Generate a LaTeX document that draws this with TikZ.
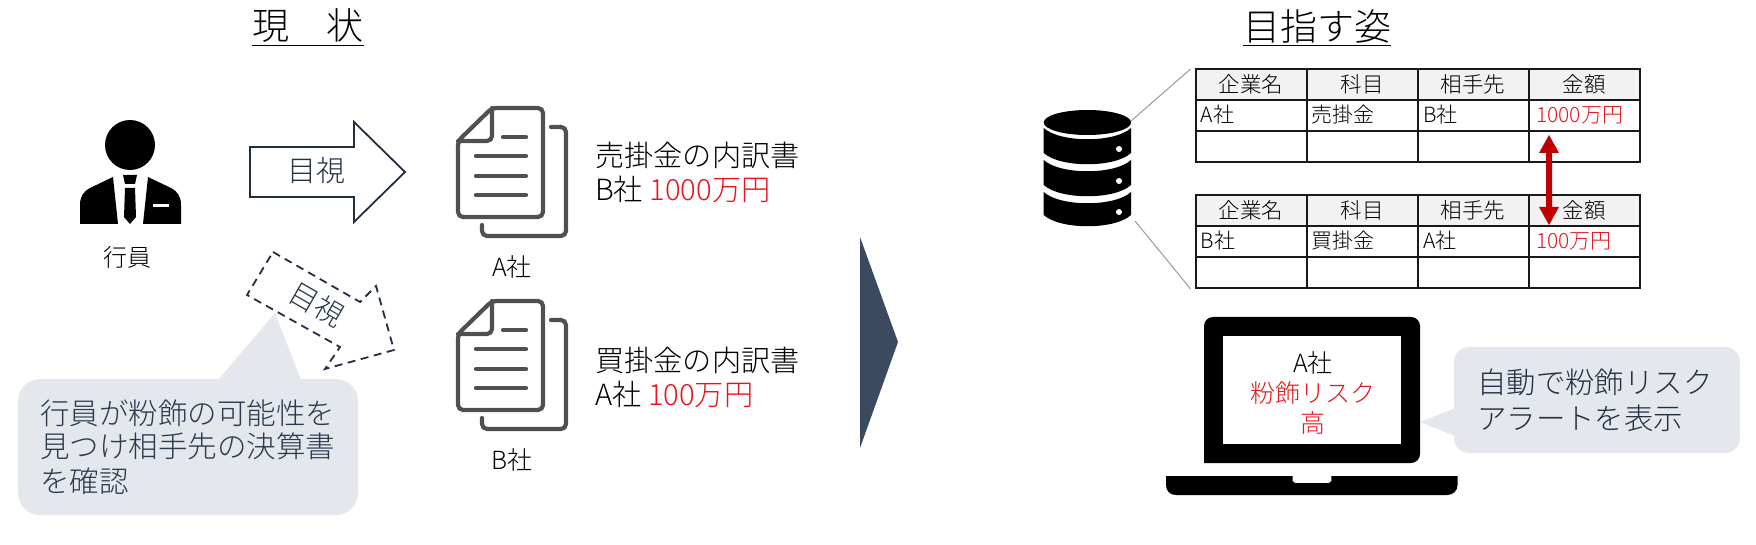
\documentclass[tikz,border=0pt]{standalone}
\usepackage{fontspec}
\setmainfont{Noto Sans CJK JP}[UprightFont=* Light]
\definecolor{navy}{HTML}{222F40}
\definecolor{ink}{HTML}{2B3A4C}
\definecolor{bubble}{HTML}{E4E7EC}
\definecolor{docgray}{HTML}{505050}
\definecolor{tri}{HTML}{3B4A5E}
\definecolor{alert}{HTML}{E8141C}
\definecolor{hdr}{HTML}{F2F2F2}
\definecolor{darkred}{HTML}{C00000}
\tikzset{
  txt/.style={inner sep=0pt,font=\fontsize{#1}{#1}\selectfont},
  lft/.style={txt=#1,anchor=west},
  docline/.style={draw=docgray,line width=4.2pt,line cap=round,line join=round,rounded corners=5pt},
  grid/.style={draw=black!90,line width=2pt},
  guide/.style={draw=black!40,line width=1pt}
}
\newcommand{\docicon}[1]{%
  \begin{scope}[yshift=-#1pt]
    \draw[docline] (492,108) -- (458,141) -- (458,217) -- (543,217) -- (543,108) -- cycle;
    \draw[docline] (492,108) -- (492,141) -- (458,141);
    \draw[docline] (551,127) -- (566,127) -- (566,236) -- (482,236) -- (482,225);
    \draw[docline,rounded corners=0pt] (503,137) -- (526,137);
    \draw[docline,rounded corners=0pt] (476,156) -- (526,156);
    \draw[docline,rounded corners=0pt] (476,176) -- (526,176);
    \draw[docline,rounded corners=0pt] (476,195) -- (526,195);
  \end{scope}}
\newcommand{\tablegrid}[1]{%
  \begin{scope}[yshift=-#1pt]
    \fill[hdr] (1195.5,69) rectangle (1640,100);
    \foreach \gx in {1195.5,1306.5,1417.6,1528.6,1640} \draw[grid] (\gx,69) -- (\gx,162.5);
    \foreach \gy in {69,100,131,162.5} \draw[grid] (1194.5,\gy) -- (1641,\gy);
    \node[txt=21.5] at (1251,84) {企業名};
    \node[txt=21.5] at (1362,84) {科目};
    \node[txt=21.5] at (1473,84) {相手先};
    \node[txt=21.5] at (1584,84) {金額};
  \end{scope}}
\begin{document}
\begin{tikzpicture}[x=1pt,y=-1pt]
\useasboundingbox (0,0) rectangle (1756,545);
% titles
\node[txt=37] (t1) at (308,26) {現　状};
\draw[black,line width=1.8pt] (252,45.5) -- (364,45.5);
\node[txt=37] (t2) at (1317,26) {目指す姿};
\draw[black,line width=1.8pt] (1243,45.5) -- (1391,45.5);
% person
\fill[black] (130,145) circle (25);
\fill[black] (80,224) -- (80,205) .. controls (80,196) and (84,191) .. (90,188) -- (113,177) -- (118,224) -- cycle;
\fill[black] (181,224) -- (181,205) .. controls (181,196) and (177,191) .. (171,188) -- (148,177) -- (143,224) -- cycle;
\fill[black] (123,175) -- (137,175) -- (135,184) -- (125,184) -- cycle;
\fill[black] (125,188) -- (135,188) -- (136,217) -- (130,224) -- (124,217) -- cycle;
\fill[white] (153,204) rectangle (169,207);
\node[txt=24] (clerk) at (127,257) {行員};
% arrows
\draw[navy,line width=1.8pt,line join=miter] (250,147) -- (354,147) -- (354,122) -- (405,172) -- (354,222) -- (354,197) -- (250,197) -- cycle;
\node[txt=29,text=navy] (look1) at (316,170) {目視};
\draw[navy,line width=1.8pt,dash pattern=on 8pt off 5.5pt] (273,252) -- (360,302) -- (376,286) -- (394,350) -- (325,369) -- (340,347) -- (247,295) -- cycle;
\node[txt=29,text=ink,rotate=-30] (look2) at (317,304) {目視};
% callout 1
\fill[bubble,rounded corners=22pt] (18,379) rectangle (358,515);
\fill[bubble] (218,380) -- (275,313) -- (301,380) -- cycle;
\node[lft=29.5,text=ink] (c1a) at (40,413) {行員が粉飾の可能性を};
\node[lft=29.5,text=ink] (c1b) at (40,446) {見つけ相手先の決算書};
\node[lft=29.5,text=ink] (c1c) at (40,481) {を確認};
% docs
\docicon{0}
\docicon{193}
\node[txt=25] (a) at (512,267) {A社};
\node[txt=25] (b) at (512,460) {B社};
\node[lft=29.2] (d1) at (595,155) {売掛金の内訳書};
\node[lft=29.2] (d2) at (595,189) {B社 \textcolor{alert}{1000万円}};
\node[lft=29.2] (d3) at (595,360) {買掛金の内訳書};
\node[lft=29.2] (d4) at (595,394) {A社 \textcolor{alert}{100万円}};
% big triangle
\fill[tri] (860,237) -- (898,342) -- (860,448) -- cycle;
% database
\fill[black] (1087.4,122.5) ellipse (43.7 and 12.5);
\foreach \ya/\yb in {128/153,160/185,192/215}{
  \fill[black] (1043.7,\ya) .. controls (1060,{\ya+15}) and (1115,{\ya+15}) .. (1131,\ya)
     -- (1131,\yb) .. controls (1115,{\yb+15}) and (1060,{\yb+15}) .. (1043.7,\yb) -- cycle;
}
\foreach \yd in {149,181,212} \fill[white] (1119,\yd) circle (3);
\coordinate (dbt) at (1131,121);
\coordinate (dbb) at (1135,221);
% tables
\tablegrid{0}
\tablegrid{126}
\coordinate (tt) at (1190.6,69);
\coordinate (tb) at (1190.6,289);
\draw[guide] (dbt) -- (tt);
\draw[guide] (dbb) -- (tb);
\node[lft=21] (r1a) at (1200.5,115) {A社};
\node[lft=21] (r1b) at (1311,115) {売掛金};
\node[lft=21] (r1c) at (1423,115) {B社};
\node[lft=21,text=alert] (r1d) at (1536,115) {1000万円};
\node[lft=21] (r2a) at (1200.5,241) {B社};
\node[lft=21] (r2b) at (1311,241) {買掛金};
\node[lft=21] (r2c) at (1423,241) {A社};
\node[lft=21,text=alert] (r2d) at (1536,241) {100万円};
% red double arrow
\coordinate (ra) at (1549,135);
\coordinate (rb) at (1549,225);
\fill[darkred] (ra) -- (1559,153) -- (1552,153) -- (1552,207) -- (1559,207) -- (rb) -- (1539,207) -- (1546,207) -- (1546,153) -- (1539,153) -- cycle;
% laptop
\fill[black,rounded corners=9pt] (1204,463) -- (1204,317) -- (1420,317) -- (1420,463) [sharp corners] -- cycle;
\fill[white] (1223,336) rectangle (1400.5,444);
\fill[black] (1166,476) -- (1292.5,476) -- (1292.5,481) -- (1295,483) -- (1329,483) -- (1331.4,481) -- (1331.4,476) -- (1457.5,476) -- (1457.5,485) .. controls (1457.5,491) and (1453,495) .. (1447,495) -- (1176,495) .. controls (1170,495) and (1166,491) .. (1166,485) -- cycle;
\node[txt=25] (s1) at (1313,363) {A社};
\node[txt=25,text=alert] (s2) at (1313,393) {粉飾リスク};
\node[txt=25,text=alert] (s3) at (1313,423) {高};
% callout 2
\fill[bubble,rounded corners=15pt] (1454,347) rectangle (1740,453);
\fill[bubble] (1455,408) -- (1420,422) -- (1455,436) -- cycle;
\node[lft=29.4,text=navy] (c2a) at (1477,382) {自動で粉飾リスク};
\node[lft=29.4,text=navy] (c2b) at (1477,418) {アラートを表示};
\end{tikzpicture}
\end{document}
